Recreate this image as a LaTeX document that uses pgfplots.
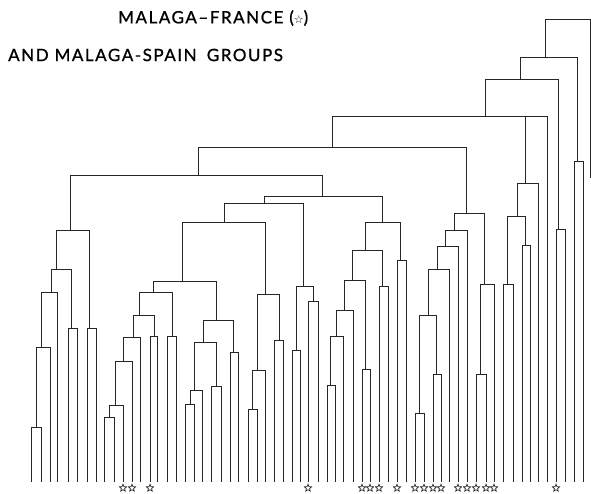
\documentclass[border=0pt]{standalone}
\usepackage{fontspec}
\setmainfont{Lato}
\newfontfamily\starfont{DejaVu Sans}
\newfontfamily\titlefont[LetterSpace=9,FakeBold=1]{Lato}
\usepackage{pgfplots}
\pgfplotsset{compat=1.18}
\pgfdeclareplotmark{ostar}{%
  \pgfpathmoveto{\pgfpointpolar{90}{\pgfplotmarksize}}%
  \pgfpathlineto{\pgfpointpolar{126}{0.45\pgfplotmarksize}}%
  \pgfpathlineto{\pgfpointpolar{162}{\pgfplotmarksize}}%
  \pgfpathlineto{\pgfpointpolar{198}{0.45\pgfplotmarksize}}%
  \pgfpathlineto{\pgfpointpolar{234}{\pgfplotmarksize}}%
  \pgfpathlineto{\pgfpointpolar{270}{0.45\pgfplotmarksize}}%
  \pgfpathlineto{\pgfpointpolar{306}{\pgfplotmarksize}}%
  \pgfpathlineto{\pgfpointpolar{342}{0.45\pgfplotmarksize}}%
  \pgfpathlineto{\pgfpointpolar{18}{\pgfplotmarksize}}%
  \pgfpathlineto{\pgfpointpolar{54}{0.45\pgfplotmarksize}}%
  \pgfpathclose
  \pgfusepathqstroke}
\begin{document}
\begin{tikzpicture}
\begin{axis}[
  width=591pt, height=494pt, scale only axis,
  xmin=0, xmax=591, ymin=0, ymax=494, y dir=reverse,
  hide axis, clip=false, unbounded coords=jump,
]
\path (rel axis cs:0,0) rectangle (rel axis cs:1,1);
% dendrogram links: left x, child height, merge height, right x, child height
\addplot[black!85, line width=0.9pt, mark=none] coordinates {
(31,482) (31,427) (41,427) (41,482) (0,nan)
(36,427) (36,347) (50,347) (50,482) (0,nan)
(41,347) (41,292) (57,292) (57,482) (0,nan)
(68,482) (68,328) (77,328) (77,482) (0,nan)
(51,292) (51,269) (71,269) (71,328) (0,nan)
(87,482) (87,328) (96,328) (96,482) (0,nan)
(56,269) (56,230.7) (89,230.7) (89,328) (0,nan)
(104,482) (104,417) (114,417) (114,482) (0,nan)
(109,417) (109,405) (123,405) (123,482) (0,nan)
(115,405) (115,361) (132,361) (132,482) (0,nan)
(123,361) (123,337) (140,337) (140,482) (0,nan)
(150,482) (150,336.7) (157,336.7) (157,482) (0,nan)
(133,337) (133,315) (154,315) (154,336.7) (0,nan)
(167,482) (167,336) (176,336) (176,482) (0,nan)
(139,315) (139,292.7) (172,292.7) (172,336) (0,nan)
(185,482) (185,404) (194,404) (194,482) (0,nan)
(190,404) (190,390) (202,390) (202,482) (0,nan)
(211,482) (211,386.7) (221,386.7) (221,482) (0,nan)
(194,390) (194,342) (216,342) (216,386.7) (0,nan)
(230,482) (230,352) (238,352) (238,482) (0,nan)
(203,342) (203,320.7) (233,320.7) (233,352) (0,nan)
(153.3,292.7) (153.3,281.7) (216,281.7) (216,320.7) (0,nan)
(248,482) (248,409) (257,409) (257,482) (0,nan)
(252,409) (252,370.7) (265,370.7) (265,482) (0,nan)
(274,482) (274,340) (283,340) (283,482) (0,nan)
(257,370.7) (257,294) (279,294) (279,340) (0,nan)
(182.7,281.7) (182.7,222) (265,222) (265,294) (0,nan)
(292,482) (292,350) (300,350) (300,482) (0,nan)
(308,482) (308,301.7) (318,301.7) (318,482) (0,nan)
(296.7,350) (296.7,286.7) (313.3,286.7) (313.3,301.7) (0,nan)
(224,222) (224,203.3) (303.3,203.3) (303.3,286.7) (0,nan)
(327,482) (327,385) (335,385) (335,482) (0,nan)
(330.7,385) (330.7,336.7) (343,336.7) (343,482) (0,nan)
(336,336.7) (336,310) (353,310) (353,482) (0,nan)
(362,482) (362,369) (370,369) (370,482) (0,nan)
(344,310) (344,280) (365,280) (365,369) (0,nan)
(379,482) (379,286) (388,286) (388,482) (0,nan)
(352.7,280) (352.7,250.7) (382.7,250.7) (382.7,286) (0,nan)
(397,482) (397,260.7) (406,260.7) (406,482) (0,nan)
(365,250.7) (365,222.7) (400,222.7) (400,260.7) (0,nan)
(264,203.3) (264,196.7) (382.7,196.7) (382.7,222.7) (0,nan)
(70,230.7) (70,175) (322,175) (322,196.7) (0,nan)
(415,482) (415,413.3) (424,413.3) (424,482) (0,nan)
(433,482) (433,374) (441,374) (441,482) (0,nan)
(419.3,413.3) (419.3,315) (436.7,315) (436.7,374) (0,nan)
(428.3,315) (428.3,269.3) (449,269.3) (449,482) (0,nan)
(437,269.3) (437,246.7) (458,246.7) (458,482) (0,nan)
(445,246.7) (445,230) (467,230) (467,482) (0,nan)
(476,482) (476,374) (486,374) (486,482) (0,nan)
(480,374) (480,284) (494,284) (494,482) (0,nan)
(454,230) (454,213.3) (484,213.3) (484,284) (0,nan)
(198,175) (198,147.7) (466,147.7) (466,213.3) (0,nan)
(503,482) (503,284) (513,284) (513,482) (0,nan)
(522,482) (522,245) (530,245) (530,482) (0,nan)
(507.3,284) (507.3,216) (525,216) (525,245) (0,nan)
(517.3,216) (517.3,183.3) (538,183.3) (538,482) (0,nan)
(332,147.7) (332,116) (547,116) (547,482) (0,nan)
(525,116) (525,183.3) (0,nan)
(556,482) (556,229.3) (565,229.3) (565,482) (0,nan)
(485,116) (485,79.3) (558.3,79.3) (558.3,229.3) (0,nan)
(574,482) (574,161.7) (583,161.7) (583,482) (0,nan)
(520.7,79.3) (520.7,57.3) (577.3,57.3) (577.3,161.7) (0,nan)
(545,57.3) (545,19.3) (590,19.3) (590,178)
};
% Malaga-France leaves
\addplot[only marks, mark=ostar, mark size=3.8pt, black!85, mark options={line width=0.7pt, line join=miter}] coordinates {
(123,488) (132,488) (150,488) (308,488) (362,488) (370,488) (379,488)
(397,488) (415,488) (424,488) (433,488) (441,488) (458,488) (467,488)
(476,488) (486,488) (494,488) (556,488)
};
\node[anchor=west, inner sep=0pt, font=\titlefont\fontsize{17}{17}\selectfont] at (axis cs:118,18) {MALAGA–FRANCE ({\starfont\fontsize{11}{11}\selectfont ☆})};
\node[anchor=west, inner sep=0pt, font=\titlefont\fontsize{17}{17}\selectfont] at (axis cs:8,55) {AND MALAGA-SPAIN\hspace{0.6em}GROUPS};
\end{axis}
\end{tikzpicture}
\end{document}
